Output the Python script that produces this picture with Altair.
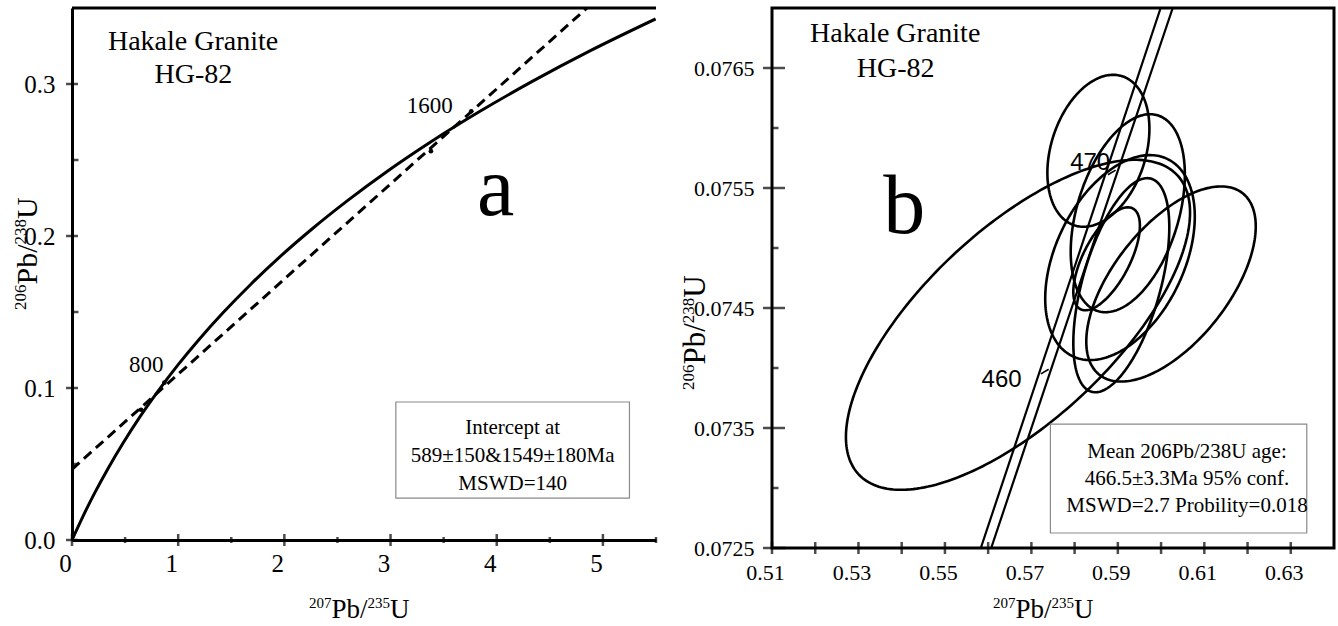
import numpy as np
import pandas as pd
import altair as alt

SERIF = "Liberation Serif"
SANS = "Liberation Sans"

# ---------------- panel a : concordia 0-1900 Ma with discordia ----------------
conc_age = [0, 100, 200, 300, 400, 500, 600, 700, 800, 900,
            1000, 1100, 1200, 1300, 1400, 1500, 1600, 1700, 1800, 1900]
conc_x = [0.0, 0.1035, 0.2177, 0.3437, 0.4828, 0.6363, 0.8056, 0.9925, 1.1987, 1.4263,
          1.6774, 1.9545, 2.2603, 2.5977, 2.9701, 3.3810, 3.8344, 4.3348, 4.8869, 5.4962]
conc_y = [0.0, 0.0156, 0.0315, 0.0476, 0.0640, 0.0807, 0.0975, 0.1147, 0.1321, 0.1498,
          0.1678, 0.1861, 0.2046, 0.2234, 0.2426, 0.2620, 0.2817, 0.3017, 0.3221, 0.3428]

disc_x = [0.0, 4.85]
disc_y = [0.0465, 0.35]

icpt_x = [0.65, 0.87, 3.38, 3.76]
icpt_y = [0.0857, 0.1035, 0.2558, 0.2820]

age_a_text = ["800", "1600"]
age_a_x = [0.70, 3.37]
age_a_y = [0.1105, 0.2809]

box_a_text = ["Intercept at", "589±150&1549±180Ma", "MSWD=140"]
box_a_line_y = [0.0697, 0.0513, 0.0329]
box_a_cx = 4.15
box_a_x = [3.05, 5.25]
box_a_y = [0.0276, 0.0908]

xt_a_major = [0, 1, 2, 3, 4, 5]
xt_a_minor = [0.5, 1.5, 2.5, 3.5, 4.5, 5.5]
yt_a_major = [0.0, 0.1, 0.2, 0.3]
yt_a_minor = [0.05, 0.15, 0.25]

# ---------------- panel b : 2-sigma error ellipses on the concordia band ----------------
ell_cx = [0.5669, 0.5855, 0.5923, 0.5905, 0.5908, 0.5874, 0.6023]
ell_cy = [0.07436, 0.07581, 0.07529, 0.07492, 0.07469, 0.07491, 0.07470]
ell_sx = [0.0398, 0.0118, 0.0132, 0.0173, 0.0111, 0.0077, 0.0196]
ell_sy = [0.001375, 0.000633, 0.000825, 0.000854, 0.000892, 0.000429, 0.000813]
ell_rho = [0.68, 0.29, 0.39, 0.40, 0.54, 0.64, 0.59]

band_y = [0.0725, 0.0748, 0.0770]
band_lo = [0.5583, 0.5796, 0.5999]
band_hi = [0.5607, 0.5821, 0.6027]

age_b_text = ["460", "470"]
age_b_x = [0.5631, 0.5836]
age_b_y = [0.073842, 0.07565]
age_b_pt_x = [0.5731, 0.5886]
age_b_pt_y = [0.07397, 0.07563]

box_b_text = ["Mean 206Pb/238U age:", "466.5±3.3Ma 95% conf.", "MSWD=2.7 Probility=0.018"]
box_b_line_y = [0.07325, 0.073025, 0.0728]
box_b_cx = 0.606
box_b_x = [0.5744, 0.6337]
box_b_y = [0.072625, 0.073533]

xt_b = [0.51, 0.52, 0.53, 0.54, 0.55, 0.56, 0.57, 0.58, 0.59, 0.60, 0.61, 0.62, 0.63]
xl_b = [0.51, 0.53, 0.55, 0.57, 0.59, 0.61, 0.63]
yt_b_major = [0.0725, 0.0735, 0.0745, 0.0755, 0.0765]
yt_b_minor = [0.0730, 0.0740, 0.0750, 0.0760]

# isotope-ratio axis titles: (text, superscript?) pieces
x_title_parts = [("207", True), ("Pb/", False), ("235", True), ("U", False)]
y_title_parts = [("206", True), ("Pb/", False), ("238", True), ("U", False)]

W_A, H_A = 584, 532
W_B, H_B = 562, 540

xa = alt.Scale(domain=[0, 5.5], nice=False, zero=False)
ya = alt.Scale(domain=[0, 0.35], nice=False, zero=False)
xb = alt.Scale(domain=[0.51, 0.64], nice=False, zero=False)
yb = alt.Scale(domain=[0.0725, 0.077], nice=False, zero=False)

axis_common = dict(grid=False, ticks=False, labelFont=SERIF, labelColor="black",
                   labelFlush=False, title="")

# one axis definition per channel, shared by every layer of a panel
ax_a_x = alt.Axis(values=xt_a_major, format="d", labelFontSize=25, labelPadding=11,
                  labelOffset=-7, domainColor="black", domainWidth=3, **axis_common)
ax_a_y = alt.Axis(values=yt_a_major, format=".1f", labelFontSize=25, labelPadding=17,
                  domainColor="black", domainWidth=3, **axis_common)
ax_b_x = alt.Axis(values=xl_b, format=".2f", labelFontSize=22, labelPadding=14,
                  labelOffset=-7, domain=False, **axis_common)
ax_b_y = alt.Axis(values=yt_b_major, format=".4f", labelFontSize=22, labelPadding=18,
                  domain=False, **axis_common)


def enc_xy(xf, yf, sx, sy, axx, axy):
    return dict(x=alt.X(xf, scale=sx, axis=axx), y=alt.Y(yf, scale=sy, axis=axy))


def text_layer(texts, xs, ys, sx, sy, axx, axy, size, font=SERIF):
    df = pd.DataFrame({"t": texts, "x": xs, "y": ys})
    return alt.Chart(df).mark_text(font=font, fontSize=size, color="black",
                                   align="center", baseline="alphabetic").encode(
        text="t:N", **enc_xy("x:Q", "y:Q", sx, sy, axx, axy))


def title_layers(parts, x0, y0, size, sup_size, raise_px, vertical):
    """Axis title with superscript mass numbers, laid out piece by piece (Times metrics)."""
    widths = {"Pb/": 1.334, "U": 0.722}
    layers = []
    pos = 0.0
    for txt, sup in parts:
        fs = sup_size if sup else size
        w = (0.5 * len(txt) if sup else widths[txt]) * fs
        if vertical:
            px, py = x0 - (raise_px if sup else 0), y0 - pos
            mk = alt.Chart(one_row).mark_text(text=txt, font=SERIF, fontSize=fs, color="black",
                                              align="left", baseline="alphabetic", angle=270)
        else:
            px, py = x0 + pos, y0 - (raise_px if sup else 0)
            mk = alt.Chart(one_row).mark_text(text=txt, font=SERIF, fontSize=fs, color="black",
                                              align="left", baseline="alphabetic")
        layers.append(mk.encode(x=alt.value(px), y=alt.value(py)))
        pos += w
    return layers


def xtick_layer(vals, sx, sy, axx, axy, y0, size):
    return alt.Chart(pd.DataFrame({"v": vals})).mark_tick(
        orient="vertical", size=size, thickness=2.5, color="black").encode(
        x=alt.X("v:Q", scale=sx, axis=axx),
        y=alt.YDatum(y0, scale=sy, axis=axy))


def ytick_layer(vals, sx, sy, axx, axy, x0, size, offset=0):
    return alt.Chart(pd.DataFrame({"v": vals})).mark_tick(
        orient="horizontal", size=size, thickness=2.5, color="black", xOffset=offset).encode(
        y=alt.Y("v:Q", scale=sy, axis=axy),
        x=alt.XDatum(x0, scale=sx, axis=axx))


def box_layer(bx, by, sx, sy, axx, axy):
    df = pd.DataFrame({"x0": [bx[0]], "x1": [bx[1]], "y0": [by[0]], "y1": [by[1]]})
    return alt.Chart(df).mark_rect(fill="white", stroke="#8a8a8a", strokeWidth=1.2).encode(
        x2="x1:Q", y2="y1:Q", **enc_xy("x0:Q", "y0:Q", sx, sy, axx, axy))


one_row = pd.DataFrame({"k": [0]})
A = (xa, ya, ax_a_x, ax_a_y)
B = (xb, yb, ax_b_x, ax_b_y)

# ---- panel a ----
concordia_a = alt.Chart(pd.DataFrame({"x": conc_x, "y": conc_y, "age": conc_age})).mark_line(
    color="black", strokeWidth=3, interpolate="monotone", clip=True).encode(
    order="age:Q", **enc_xy("x:Q", "y:Q", *A))

discordia = alt.Chart(pd.DataFrame({"x": disc_x, "y": disc_y})).mark_line(
    color="black", strokeWidth=3, strokeDash=[10, 6], clip=True).encode(
    **enc_xy("x:Q", "y:Q", *A))

icpt = alt.Chart(pd.DataFrame({"x": icpt_x, "y": icpt_y})).mark_point(
    shape="circle", size=22, filled=True, color="black", opacity=1).encode(
    **enc_xy("x:Q", "y:Q", *A))

top_a = alt.Chart(one_row).mark_rule(color="black", strokeWidth=3).encode(
    x=alt.value(0), x2=alt.value(W_A), y=alt.value(0))

# blank rule fixing the outer left/top margin of the figure
anchor = alt.Chart(one_row).mark_rule(color="white", strokeWidth=1).encode(
    x=alt.value(-71), x2=alt.value(0), y=alt.value(-7.5))

panel_a = alt.layer(
    anchor,
    discordia,
    concordia_a,
    icpt,
    top_a,
    xtick_layer(xt_a_major, *A, 0.0, 12),
    xtick_layer(xt_a_minor, *A, 0.0, 6),
    ytick_layer(yt_a_major, *A, 0.0, 12),
    ytick_layer(yt_a_minor, *A, 0.0, 7, offset=3),
    box_layer(box_a_x, box_a_y, *A),
    text_layer(box_a_text, [box_a_cx] * 3, box_a_line_y, *A, 21),
    text_layer(age_a_text, age_a_x, age_a_y, *A, 23),
    text_layer(["Hakale Granite", "HG-82"], [1.14, 1.144], [0.3224, 0.3007], *A, 28),
    text_layer(["a"], [3.99], [0.2138], *A, 84),
    *title_layers(x_title_parts, 237, 610, 27, 15, 10, vertical=False),
    *title_layers(y_title_parts, -35, 302, 30, 17, 11, vertical=True),
).properties(width=W_A, height=H_A)

# ---- panel b ----
theta = np.linspace(0, 2 * np.pi, 241)
ell_rows = []
for i, (cx, cy, sx_, sy_, r) in enumerate(zip(ell_cx, ell_cy, ell_sx, ell_sy, ell_rho)):
    ex = cx + sx_ * np.cos(theta)
    ey = cy + sy_ * (r * np.cos(theta) + np.sqrt(1 - r * r) * np.sin(theta))
    for k in range(len(theta)):
        ell_rows.append({"id": i, "k": k, "x": ex[k], "y": ey[k]})
ell_df = pd.DataFrame(ell_rows)

ellipses = alt.Chart(ell_df).mark_line(color="black", strokeWidth=2.6, clip=True).encode(
    detail="id:N", order="k:Q", **enc_xy("x:Q", "y:Q", *B))

band_df = pd.DataFrame({
    "side": ["lo"] * len(band_y) + ["hi"] * len(band_y),
    "x": band_lo + band_hi,
    "y": band_y + band_y,
})
band = alt.Chart(band_df).mark_line(color="black", strokeWidth=2.2, clip=True).encode(
    detail="side:N", order="y:Q", **enc_xy("x:Q", "y:Q", *B))

band_marks = alt.Chart(pd.DataFrame({"x": age_b_pt_x, "y": age_b_pt_y})).mark_point(
    shape="M-1,0.6L1,-0.6", size=60, strokeWidth=1.6, filled=False, color="black",
    opacity=1).encode(**enc_xy("x:Q", "y:Q", *B))

panel_b = alt.layer(
    ellipses,
    band,
    band_marks,
    xtick_layer(xt_b, *B, 0.0725, 12),
    ytick_layer(yt_b_major, *B, 0.51, 22, offset=2),
    ytick_layer(yt_b_minor, *B, 0.51, 7, offset=3),
    box_layer(box_b_x, box_b_y, *B),
    text_layer(box_b_text, [box_b_cx] * 3, box_b_line_y, *B, 21),
    text_layer(age_b_text, age_b_x, age_b_y, *B, 24, font=SANS),
    text_layer(["Hakale Granite", "HG-82"], [0.5385, 0.5386], [0.076717, 0.076425], *B, 28),
    text_layer(["b"], [0.5406], [0.075125], *B, 84),
    *title_layers(x_title_parts, 221, 610, 27, 15, 10, vertical=False),
    *title_layers(y_title_parts, -67, 382, 31, 17, 11, vertical=True),
).properties(width=W_B, height=H_B,
             view=alt.ViewBackground(stroke="black", strokeWidth=3))

chart = alt.hconcat(panel_a, panel_b, spacing=116, bounds="flush").configure_view(
    strokeWidth=0).properties(padding=0, background="white")

chart.save("out.html", embed_options={"renderer": "svg", "actions": False})
